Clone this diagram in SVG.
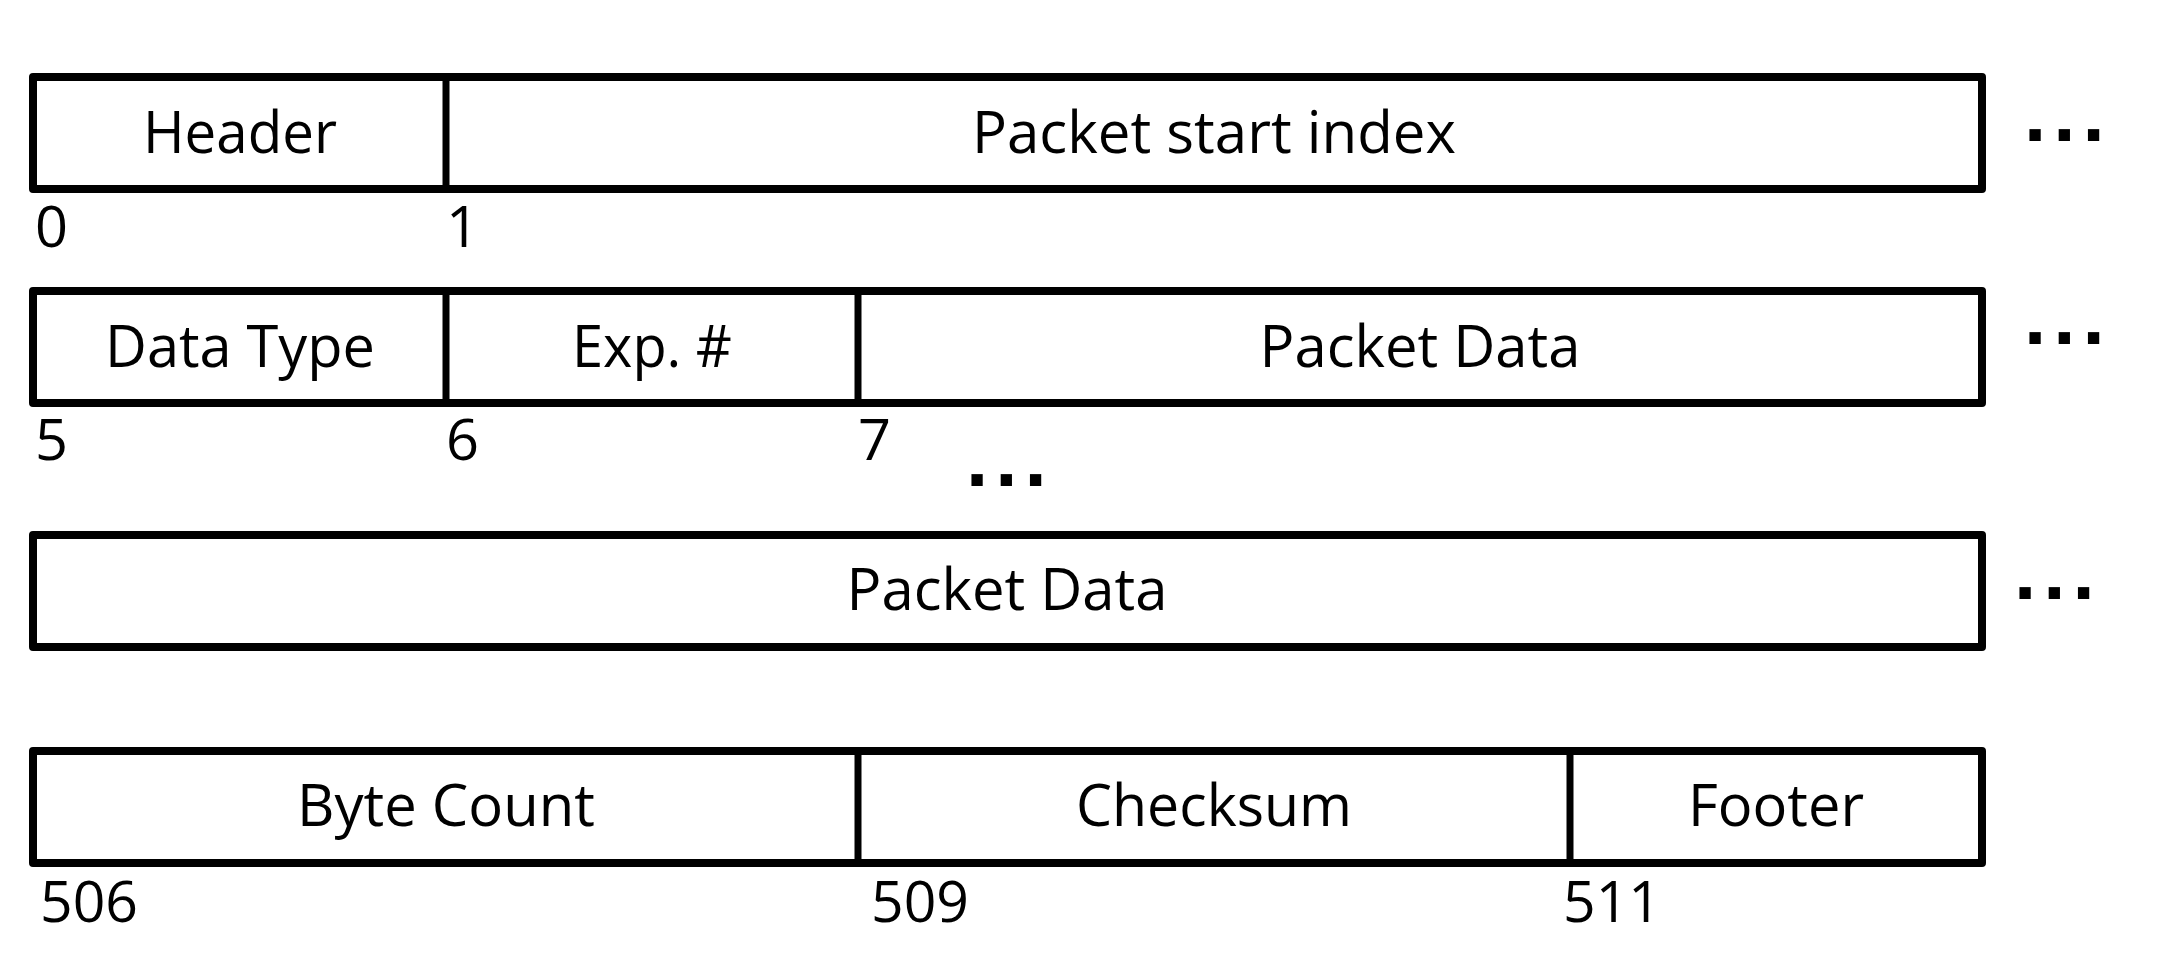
<svg xmlns="http://www.w3.org/2000/svg" width="2169" height="975" viewBox="0 0 2169 975">
<style>
.box{fill:#fff;stroke:#000;stroke-width:8;stroke-linejoin:round}
.div{stroke:#000;stroke-width:7}
.t{font-family:"Open Sans","Noto Sans","Liberation Sans",sans-serif;font-size:59px;fill:#000;text-anchor:middle}
.n{font-family:"Open Sans","Noto Sans","Liberation Sans",sans-serif;font-size:57px;fill:#000}
.d{font-family:"Liberation Sans",Arial,sans-serif;font-weight:bold;font-size:80px;fill:#000;letter-spacing:7px}
</style>
<rect width="2169" height="975" fill="#fff"/>
<g id="row1">
  <rect class="box" x="33" y="77" width="1949" height="112"/>
  <line class="div" x1="446" y1="77" x2="446" y2="189"/>
  <g id="header"><text class="t" x="240" y="153" textLength="194" lengthAdjust="spacingAndGlyphs">Header</text></g>
  <g id="packet-start-index"><text class="t" x="1214" y="153" textLength="484" lengthAdjust="spacingAndGlyphs">Packet start index</text></g>
  <text class="n" x="35" y="247" textLength="33" lengthAdjust="spacingAndGlyphs">0</text>
  <text class="n" x="446" y="247" textLength="33" lengthAdjust="spacingAndGlyphs">1</text>
  <text class="d" x="2024" y="141">...</text>
</g>
<g id="row2">
  <rect class="box" x="33" y="291" width="1949" height="112"/>
  <line class="div" x1="446" y1="291" x2="446" y2="403"/>
  <line class="div" x1="858" y1="291" x2="858" y2="403"/>
  <g id="data-type"><text class="t" x="240" y="367" textLength="270" lengthAdjust="spacingAndGlyphs">Data Type</text></g>
  <g id="exp-num"><text class="t" x="652" y="367" textLength="160" lengthAdjust="spacingAndGlyphs">Exp. #</text></g>
  <g id="packet-data-1"><text class="t" x="1420" y="367" textLength="321" lengthAdjust="spacingAndGlyphs">Packet Data</text></g>
  <text class="n" x="35" y="460" textLength="33" lengthAdjust="spacingAndGlyphs">5</text>
  <text class="n" x="446" y="460" textLength="33" lengthAdjust="spacingAndGlyphs">6</text>
  <text class="n" x="858" y="460" textLength="33" lengthAdjust="spacingAndGlyphs">7</text>
  <text class="d" x="2024" y="344">...</text>
  <text class="d" x="966" y="486">...</text>
</g>
<g id="row3">
  <rect class="box" x="33" y="535" width="1949" height="112"/>
  <g id="packet-data-2"><text class="t" x="1007" y="610" textLength="321" lengthAdjust="spacingAndGlyphs">Packet Data</text></g>
  <text class="d" x="2014" y="599">...</text>
</g>
<g id="row4">
  <rect class="box" x="33" y="751" width="1949" height="112"/>
  <line class="div" x1="858" y1="751" x2="858" y2="863"/>
  <line class="div" x1="1570" y1="751" x2="1570" y2="863"/>
  <g id="byte-count"><text class="t" x="446" y="826" textLength="298" lengthAdjust="spacingAndGlyphs">Byte Count</text></g>
  <g id="checksum"><text class="t" x="1214" y="826" textLength="276" lengthAdjust="spacingAndGlyphs">Checksum</text></g>
  <g id="footer"><text class="t" x="1776" y="826" textLength="176" lengthAdjust="spacingAndGlyphs">Footer</text></g>
  <text class="n" x="40" y="922" textLength="98" lengthAdjust="spacingAndGlyphs">506</text>
  <text class="n" x="871" y="922" textLength="98" lengthAdjust="spacingAndGlyphs">509</text>
  <text class="n" x="1563" y="922" textLength="98" lengthAdjust="spacingAndGlyphs">511</text>
</g>
</svg>
